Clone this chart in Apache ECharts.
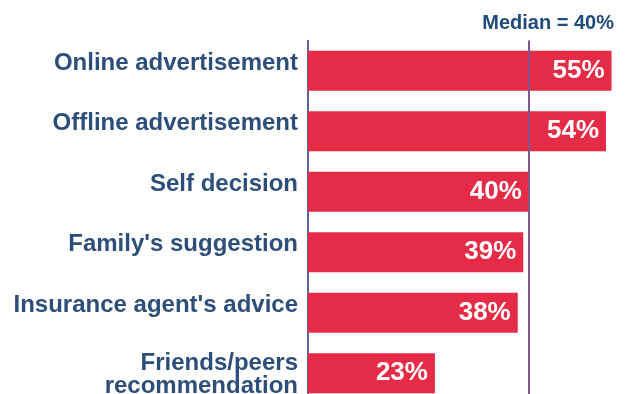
<!DOCTYPE html>
<html>
<head>
<meta charset="utf-8">
<script src="https://cdn.jsdelivr.net/npm/echarts@6/dist/echarts.min.js"></script>
<style>
  html, body { margin: 0; padding: 0; background: #ffffff; overflow: hidden; }
  /* the last row runs past the bottom edge of the view */
  #chart { width: 626px; height: 404px; }
</style>
</head>
<body>
<div id="chart"></div>
<script>
// Sources that influenced the purchase decision (top to bottom)
const categories = [
  "Online advertisement",
  "Offline advertisement",
  "Self decision",
  "Family's suggestion",
  "Insurance agent's advice",
  "Friends/peers\nrecommendation"
];
const shares = [55, 54, 40, 39, 38, 23];
const median = 40;

const FONT = '"Liberation Sans", Arial, Helvetica, sans-serif';
const TEXT_BLUE = '#2d4e79';
const BAR_RED = '#e52b45';

// Single-line labels sit above the bar centre; the wrapped label is centred on it
const yData = categories.map(function (c) {
  if (c.indexOf('\n') >= 0) {
    return { value: c, textStyle: { verticalAlign: 'middle' } };
  }
  return c;
});

const labelFont = { fontFamily: FONT, fontSize: 24, fontWeight: 'bold', color: TEXT_BLUE };

const chart = echarts.init(document.getElementById('chart'), null, { renderer: 'canvas' });

chart.setOption({
  animation: false,
  backgroundColor: '#ffffff',
  title: {
    text: 'Median = ' + median + '%',
    right: 7,
    top: 8,
    textStyle: { fontFamily: FONT, fontSize: 20, fontWeight: 'bold', color: '#1f4a7a' }
  },
  grid: { left: 308, top: 40.5, width: 314.6, bottom: 0.5, containLabel: false },
  xAxis: {
    type: 'value',
    min: 0,
    max: 57,
    show: false
  },
  yAxis: {
    type: 'category',
    inverse: true,
    data: yData,
    axisTick: { show: false },
    axisLine: { show: true, lineStyle: { color: '#2b2b7c', width: 1.5 } },
    axisLabel: Object.assign({
      margin: 10,
      lineHeight: 15,
      verticalAlign: 'bottom',
      formatter: function (value) {
        if (value.indexOf('\n') < 0) return value;
        const parts = value.split('\n');
        return '{l1|' + parts[0] + '}\n{l2|' + parts[1] + '}';
      },
      rich: {
        l1: Object.assign({ lineHeight: 26 }, labelFont),
        l2: Object.assign({ lineHeight: 20 }, labelFont)
      }
    }, labelFont)
  },
  series: [{
    type: 'bar',
    data: shares,
    barWidth: 40,
    itemStyle: { color: BAR_RED },
    label: {
      show: true,
      position: 'insideRight',
      distance: 7,
      formatter: '{c}%',
      fontFamily: FONT,
      fontSize: 26,
      fontWeight: 'bold',
      color: '#ffffff'
    },
    markLine: {
      silent: true,
      symbol: 'none',
      label: { show: false },
      lineStyle: { color: '#7d5690', width: 2, type: 'solid' },
      data: [{ xAxis: median }]
    }
  }]
});
</script>
</body>
</html>
